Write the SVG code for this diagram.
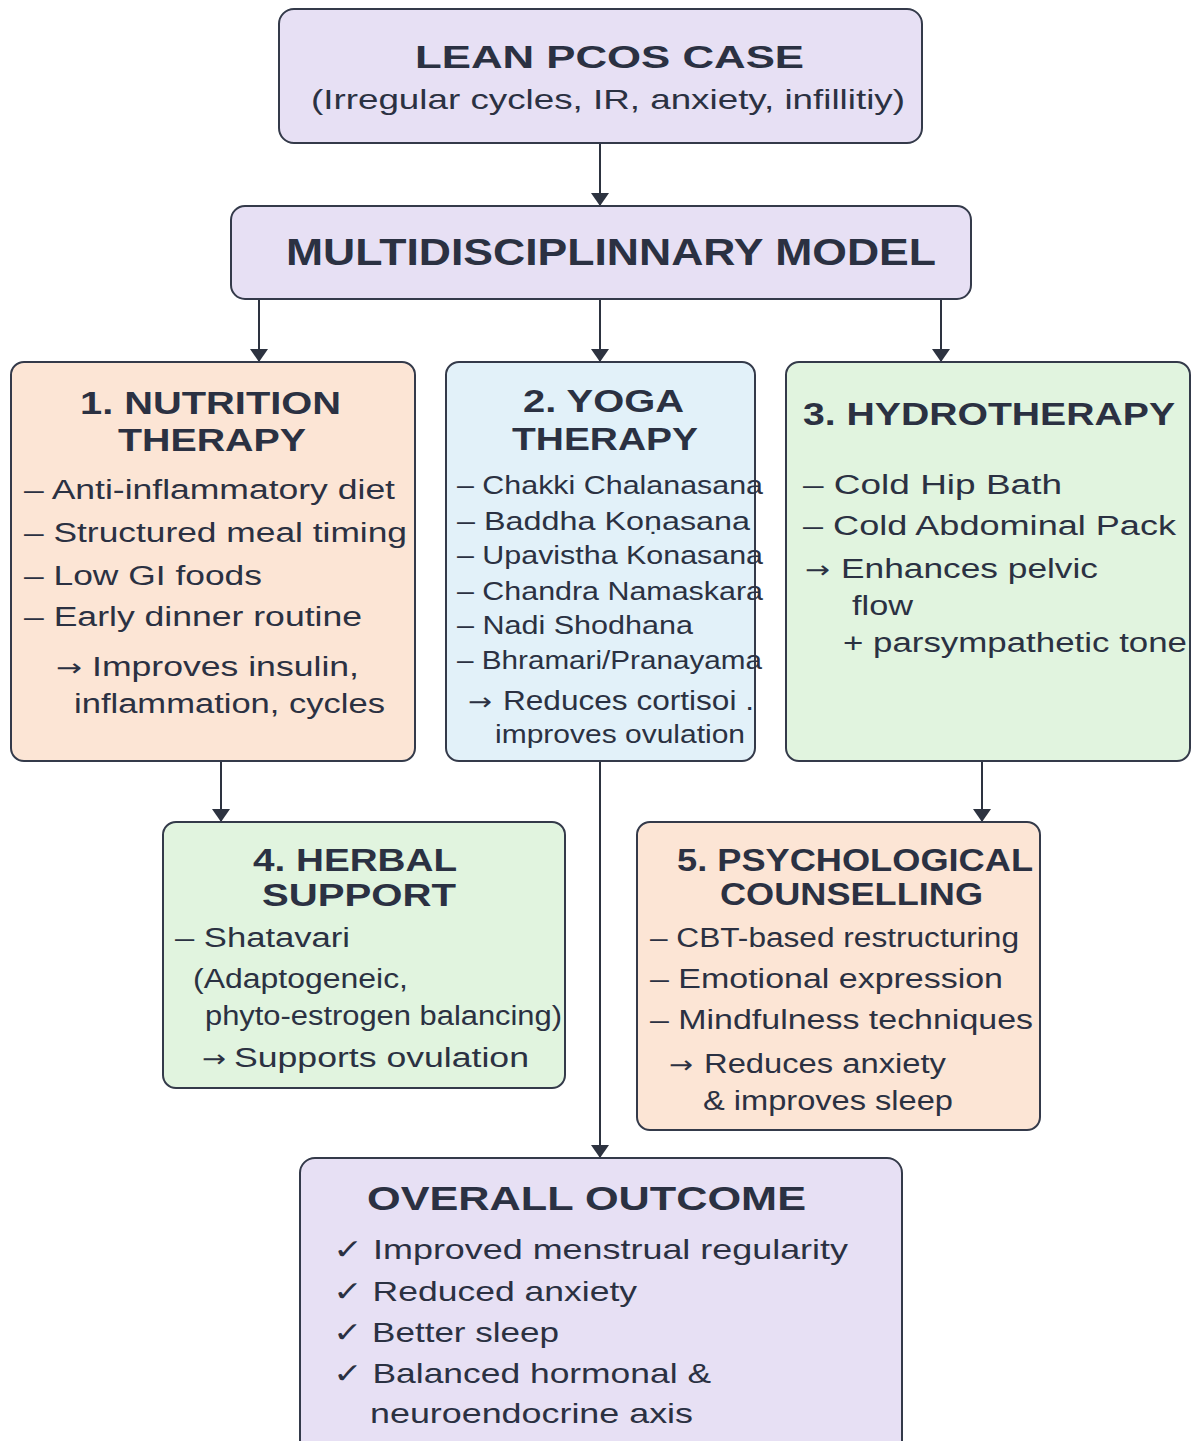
<svg xmlns="http://www.w3.org/2000/svg" width="1195" height="1441" viewBox="0 0 1195 1441">
<defs>
<style>
.box{stroke:#343a4a;stroke-width:2}
.lav{fill:#e7e0f4}
.peach{fill:#fce5d5}
.blue{fill:#e2f1f9}
.green{fill:#e1f4df}
text{font-family:"Liberation Sans",Arial,"DejaVu Sans",sans-serif;fill:#2b3142}
.t{font-weight:bold;font-size:32px}
.b{font-size:27px}
.y{font-size:25px}
.ar{font-family:"DejaVu Sans",sans-serif;font-size:24px}
.conn{stroke:#2d3340;stroke-width:2;fill:none}
</style>
<marker id="ah" viewBox="0 0 13 18" refX="13" refY="9" markerWidth="13" markerHeight="18" markerUnits="userSpaceOnUse" orient="auto">
<path d="M0,0 L13,9 L0,18 Z" fill="#2d3340"/>
</marker>
</defs>
<rect width="1195" height="1441" fill="#ffffff"/>
<g id="connectors">
<line class="conn" x1="600" y1="143" x2="600" y2="206" marker-end="url(#ah)"/>
<line class="conn" x1="259" y1="299" x2="259" y2="362" marker-end="url(#ah)"/>
<line class="conn" x1="600" y1="299" x2="600" y2="362" marker-end="url(#ah)"/>
<line class="conn" x1="941" y1="299" x2="941" y2="362" marker-end="url(#ah)"/>
<line class="conn" x1="221" y1="761" x2="221" y2="822" marker-end="url(#ah)"/>
<line class="conn" x1="982" y1="761" x2="982" y2="822" marker-end="url(#ah)"/>
<line class="conn" x1="600" y1="761" x2="600" y2="1158" marker-end="url(#ah)"/>
</g>
<g id="case">
<rect class="box lav" x="279" y="9" width="643" height="134" rx="15"/>
<text class="t" x="415" y="68" textLength="389" lengthAdjust="spacingAndGlyphs">LEAN PCOS CASE</text>
<text x="311" y="109" style="font-size:28px" textLength="594" lengthAdjust="spacingAndGlyphs">(Irregular cycles, IR, anxiety, infillitiy)</text>
</g>
<g id="model">
<rect class="box lav" x="231" y="206" width="740" height="93" rx="14"/>
<text x="286" y="265" style="font-weight:bold;font-size:36px" textLength="650" lengthAdjust="spacingAndGlyphs">MULTIDISCIPLINNARY MODEL</text>
</g>
<g id="nutrition">
<rect class="box peach" x="11" y="362" width="404" height="399" rx="13"/>
<text class="t" x="80" y="414" textLength="261" lengthAdjust="spacingAndGlyphs">1. NUTRITION</text>
<text class="t" x="118" y="451" textLength="188" lengthAdjust="spacingAndGlyphs">THERAPY</text>
<text class="b" x="24" y="499" textLength="371" lengthAdjust="spacingAndGlyphs">– Anti-inflammatory diet</text>
<text class="b" x="24" y="542" textLength="383" lengthAdjust="spacingAndGlyphs">– Structured meal timing</text>
<text class="b" x="24" y="585" textLength="238" lengthAdjust="spacingAndGlyphs">– Low GI foods</text>
<text class="b" x="24" y="626" textLength="338" lengthAdjust="spacingAndGlyphs">– Early dinner routine</text>
<text class="ar" x="56" y="676" textLength="26" lengthAdjust="spacingAndGlyphs">→</text>
<text class="b" x="92" y="676" textLength="267" lengthAdjust="spacingAndGlyphs">Improves insulin,</text>
<text class="b" x="74" y="713" textLength="311" lengthAdjust="spacingAndGlyphs">inflammation, cycles</text>
</g>
<g id="yoga">
<rect class="box blue" x="446" y="362" width="309" height="399" rx="13"/>
<text class="t" x="523" y="412" textLength="161" lengthAdjust="spacingAndGlyphs">2. YOGA</text>
<text class="t" x="512" y="450" textLength="186" lengthAdjust="spacingAndGlyphs">THERAPY</text>
<text class="y" x="457" y="494" textLength="306" lengthAdjust="spacingAndGlyphs">– Chakki Chalanasana</text>
<text class="y" x="457" y="530" textLength="293" lengthAdjust="spacingAndGlyphs">– Baddha Koṇasana</text>
<text class="y" x="457" y="564" textLength="306" lengthAdjust="spacingAndGlyphs">– Upavistha Konasana</text>
<text class="y" x="457" y="600" textLength="306" lengthAdjust="spacingAndGlyphs">– Chandra Namaskara</text>
<text class="y" x="457" y="634" textLength="236" lengthAdjust="spacingAndGlyphs">– Nadi Shodhana</text>
<text class="y" x="457" y="669" textLength="305" lengthAdjust="spacingAndGlyphs">– Bhramari/Pranayama</text>
<text class="ar" x="468" y="710" textLength="24" lengthAdjust="spacingAndGlyphs">→</text>
<text class="b" x="503" y="710" textLength="251" lengthAdjust="spacingAndGlyphs">Reduces cortisoi .</text>
<text class="y" x="495" y="743" textLength="250" lengthAdjust="spacingAndGlyphs">improves ovulation</text>
</g>
<g id="hydro">
<rect class="box green" x="786" y="362" width="404" height="399" rx="13"/>
<text class="t" x="803" y="425" textLength="372" lengthAdjust="spacingAndGlyphs">3. HYDROTHERAPY</text>
<text class="b" x="803" y="494" textLength="259" lengthAdjust="spacingAndGlyphs">– Cold Hip Bath</text>
<text class="b" x="803" y="535" textLength="373" lengthAdjust="spacingAndGlyphs">– Cold Abdominal Pack</text>
<text class="ar" x="805" y="578" textLength="25" lengthAdjust="spacingAndGlyphs">→</text>
<text class="b" x="841" y="578" textLength="257" lengthAdjust="spacingAndGlyphs">Enhances pelvic</text>
<text class="b" x="852" y="615" textLength="61" lengthAdjust="spacingAndGlyphs">flow</text>
<text class="b" x="843" y="652" textLength="344" lengthAdjust="spacingAndGlyphs">+ parsympathetic tone</text>
</g>
<g id="herbal">
<rect class="box green" x="163" y="822" width="402" height="266" rx="13"/>
<text class="t" x="253" y="871" textLength="204" lengthAdjust="spacingAndGlyphs">4. HERBAL</text>
<text class="t" x="262" y="906" textLength="194" lengthAdjust="spacingAndGlyphs">SUPPORT</text>
<text class="b" x="175" y="947" textLength="175" lengthAdjust="spacingAndGlyphs">– Shatavari</text>
<text class="b" x="193" y="988" textLength="215" lengthAdjust="spacingAndGlyphs">(Adaptogeneic,</text>
<text class="b" x="205" y="1025" textLength="357" lengthAdjust="spacingAndGlyphs">phyto-estrogen balancing)</text>
<text class="ar" x="202" y="1067" textLength="24" lengthAdjust="spacingAndGlyphs">→</text>
<text class="b" x="234" y="1067" textLength="295" lengthAdjust="spacingAndGlyphs">Supports ovulation</text>
</g>
<g id="psych">
<rect class="box peach" x="637" y="822" width="403" height="308" rx="13"/>
<text class="t" x="677" y="871" textLength="356" lengthAdjust="spacingAndGlyphs">5. PSYCHOLOGICAL</text>
<text class="t" x="720" y="905" textLength="263" lengthAdjust="spacingAndGlyphs">COUNSELLING</text>
<text class="b" x="650" y="947" textLength="369" lengthAdjust="spacingAndGlyphs">– CBT-based restructuring</text>
<text class="b" x="650" y="988" textLength="353" lengthAdjust="spacingAndGlyphs">– Emotional expression</text>
<text class="b" x="650" y="1029" textLength="383" lengthAdjust="spacingAndGlyphs">– Mindfulness techniques</text>
<text class="ar" x="669" y="1073" textLength="24" lengthAdjust="spacingAndGlyphs">→</text>
<text class="b" x="704" y="1073" textLength="242" lengthAdjust="spacingAndGlyphs">Reduces anxiety</text>
<text class="b" x="703" y="1110" textLength="250" lengthAdjust="spacingAndGlyphs">&amp; improves sleep</text>
</g>
<g id="outcome">
<rect class="box lav" x="300" y="1158" width="602" height="300" rx="15"/>
<text x="367" y="1210" style="font-weight:bold;font-size:33px" textLength="439" lengthAdjust="spacingAndGlyphs">OVERALL OUTCOME</text>
<text x="333" y="1259" style="font-size:28px" textLength="515" lengthAdjust="spacingAndGlyphs">✓ Improved menstrual regularity</text>
<text x="333" y="1301" style="font-size:28px" textLength="304" lengthAdjust="spacingAndGlyphs">✓ Reduced anxiety</text>
<text x="333" y="1342" style="font-size:28px" textLength="226" lengthAdjust="spacingAndGlyphs">✓ Better sleep</text>
<text x="333" y="1383" style="font-size:28px" textLength="378" lengthAdjust="spacingAndGlyphs">✓ Balanced hormonal &amp;</text>
<text x="370" y="1423" style="font-size:28px" textLength="323" lengthAdjust="spacingAndGlyphs">neuroendocrine axis</text>
</g>
</svg>
